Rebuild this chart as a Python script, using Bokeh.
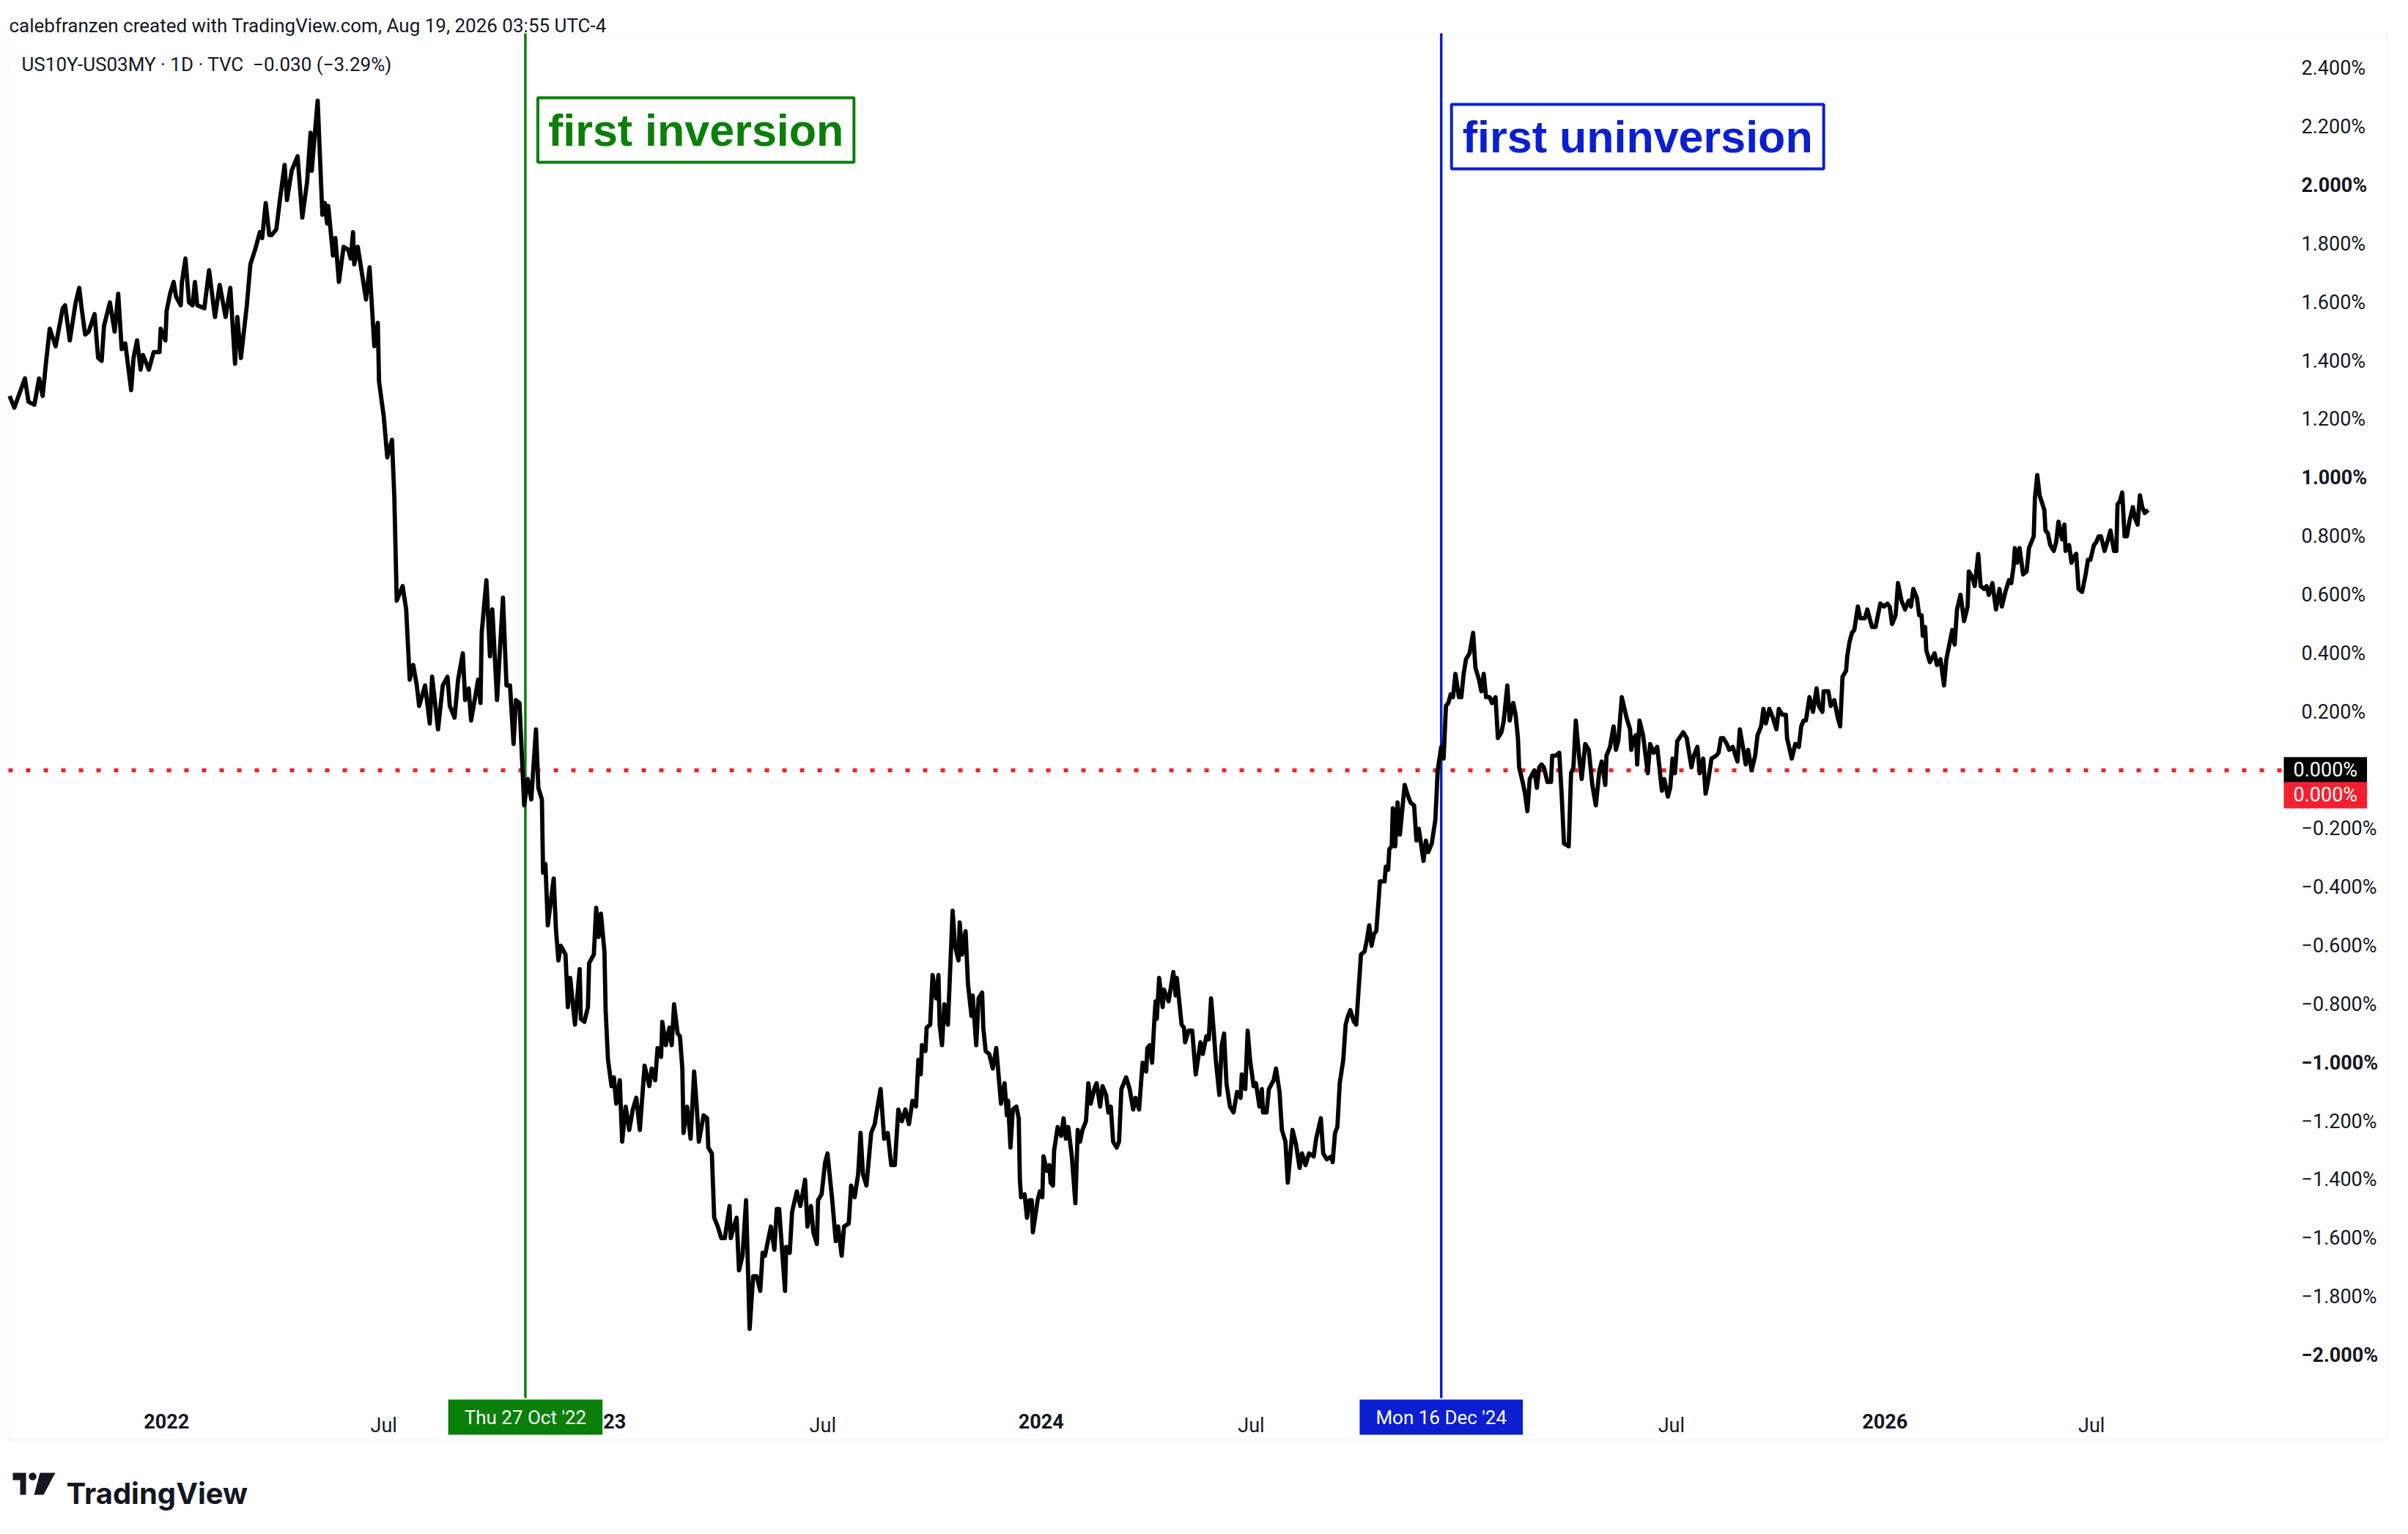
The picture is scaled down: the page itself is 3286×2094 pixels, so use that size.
import numpy as np
import pandas as pd
from bokeh.plotting import figure
from bokeh.models import Range1d, FixedTicker, Label, BoxAnnotation, PolyAnnotation, LinearAxis, Grid
from bokeh.embed import file_html
from bokeh.resources import INLINE

# ---------------- data ----------------
START = "2021-08-20"   # first bar of the series; positions below are days after it
day_offset = [
1,5,14,17,22,26,29,32,35,40,46,48,52,57,60,62,65,68,73,76,79,81,86,90,93,96,99,104,106,109,112,114,119,123,128,129,133,134,137,140,142,146,147,150,153,156,158,160,166,170,175,179,184,188,192,194,197,202,205,209,213,215,218,221,223,227,230,234,236,240,243,245,249,253,256,257,262,266,268,270,271,275,277,280,284,288,290,292,293,296,303,306,310,313,314,318,321,325,327,329,334,337,340,343,346,348,353,357,359,364,368,372,374,378,381,385,387,390,392,398,400,401,405,408,410,414,419,422,425,428,430,433,437,440,443,447,449,452,453,455,457,462,464,466,468,472,474,476,480,484,485,488,491,492,496,498,500,502,505,506,508,511,513,515,518,520,523,526,529,532,535,539,543,545,548,550,553,554,557,560,562,564,567,569,571,572,575,578,581,583,585,589,592,593,596,598,601,604,607,611,612,614,617,619,622,625,628,631,634,637,639,641,644,646,649,651,653,658,659,662,664,668,671,675,677,680,682,685,686,689,692,694,698,701,703,706,708,712,714,717,720,722,724,727,731,734,736,739,742,745,748,751,754,757,760,763,766,769,771,773,774,777,778,781,783,786,788,789,791,793,796,800,802,805,806,808,811,813,816,817,820,822,825,826,828,831,834,837,841,844,846,847,849,851,854,856,857,858,861,863,865,867,868,872,874,876,877,880,882,883,885,886,889,892,894,896,898,901,904,906,908,910,913,915,917,920,922,925,927,930,932,934,936,939,941,943,947,950,953,955,958,960,961,964,965,967,969,971,972,973,975,978,979,983,987,989,990,994,996,997,1000,1003,1006,1010,1012,1015,1017,1019,1021,1023,1026,1028,1030,1032,1035,1038,1041,1044,1045,1048,1050,1052,1055,1057,1060,1062,1063,1066,1068,1072,1074,1077,1079,1082,1084,1088,1091,1094,1096,1099,1102,1106,1108,1112,1114,1117,1121,1122,1124,1126,1128,1131,1133,1135,1137,1140,1142,1144,1146,1149,1151,1153,1155,1157,1159,1161,1162,1166,1167,1169,1170,1172,1173,1175,1177,1179,1183,1186,1188,1191,1193,1195,1199,1201,1203,1206,1209,1211,1214,1216,1218,1220,1222,1224,1226,1229,1231,1233,1235,1238,1241,1243,1246,1248,1250,1252,1255,1257,1260,1262,1265,1267,1270,1272,1275,1277,1279,1280,1283,1285,1287,1289,1293,1295,1297,1299,1301,1304,1307,1308,1311,1314,1316,1318,1322,1324,1326,1328,1331,1333,1336,1339,1342,1345,1348,1350,1353,1354,1357,1360,1362,1364,1367,1371,1374,1375,1377,1379,1380,1382,1385,1389,1391,1394,1397,1401,1403,1406,1408,1410,1412,1414,1419,1422,1426,1428,1431,1433,1436,1438,1440,1443,1447,1449,1451,1453,1456,1458,1461,1465,1467,1470,1472,1474,1477,1480,1482,1485,1487,1489,1492,1495,1498,1500,1503,1506,1507,1511,1514,1517,1519,1521,1523,1526,1529,1532,1534,1537,1538,1542,1544,1547,1550,1552,1554,1557,1558,1560,1562,1564,1567,1569,1573,1575,1579,1582,1586,1589,1592,1594,1596,1599,1601,1604,1607,1610,1612,1614,1617,1619,1621,1622,1624,1625,1628,1632,1634,1637,1640,1642,1645,1647,1649,1651,1654,1657,1660,1661,1664,1666,1669,1671,1674,1676,1678,1681,1684,1687,1689,1692,1695,1697,1699,1700,1702,1704,1707,1710,1712,1716,1717,1719,1721,1725,1726,1728,1730,1733,1735,1737,1740,1742,1743,1746,1748,1750,1752,1754,1757,1760,1762,1764,1767,1769,1771,1773,1776,1779,1781,1784,1786,1787,1789,1791,1793,1795,1797,1800,1802,1804,1806,1808,1810,1813,
]
spread = [
1.28,1.24,1.34,1.26,1.25,1.34,1.28,1.40,1.51,1.45,1.58,1.59,1.47,1.60,1.65,1.58,1.49,1.50,1.56,1.41,1.40,1.52,1.60,1.50,1.63,1.44,1.46,1.30,1.41,1.47,1.37,1.42,1.37,1.43,1.43,1.51,1.47,1.57,1.63,1.67,1.62,1.59,1.67,1.75,1.60,1.59,1.67,1.59,1.58,1.71,1.55,1.66,1.55,1.65,1.39,1.55,1.41,1.59,1.73,1.78,1.84,1.82,1.94,1.83,1.83,1.85,1.95,2.07,1.95,2.05,2.08,2.10,1.89,2.01,2.18,2.05,2.29,1.90,1.94,1.87,1.93,1.76,1.82,1.67,1.79,1.78,1.75,1.84,1.73,1.79,1.61,1.72,1.45,1.53,1.33,1.21,1.07,1.13,0.93,0.58,0.63,0.55,0.31,0.36,0.29,0.22,0.29,0.16,0.32,0.14,0.29,0.32,0.22,0.18,0.31,0.40,0.24,0.28,0.17,0.31,0.23,0.47,0.65,0.39,0.55,0.24,0.59,0.29,0.29,0.09,0.24,0.23,-0.12,-0.03,-0.10,0.14,-0.06,-0.10,-0.35,-0.32,-0.53,-0.37,-0.55,-0.65,-0.60,-0.63,-0.81,-0.71,-0.87,-0.68,-0.85,-0.86,-0.81,-0.66,-0.63,-0.47,-0.57,-0.49,-0.62,-0.82,-0.99,-1.08,-1.05,-1.14,-1.06,-1.27,-1.15,-1.23,-1.16,-1.12,-1.23,-1.01,-1.08,-1.02,-1.06,-0.95,-0.98,-0.86,-0.94,-0.88,-0.94,-0.80,-0.90,-0.91,-1.02,-1.24,-1.15,-1.26,-1.03,-1.14,-1.27,-1.18,-1.19,-1.29,-1.31,-1.53,-1.56,-1.60,-1.60,-1.49,-1.60,-1.57,-1.53,-1.71,-1.66,-1.47,-1.91,-1.73,-1.73,-1.78,-1.65,-1.66,-1.60,-1.56,-1.64,-1.50,-1.50,-1.78,-1.63,-1.65,-1.51,-1.44,-1.49,-1.40,-1.56,-1.49,-1.58,-1.62,-1.47,-1.45,-1.34,-1.31,-1.47,-1.61,-1.56,-1.66,-1.56,-1.55,-1.42,-1.46,-1.38,-1.24,-1.38,-1.42,-1.24,-1.21,-1.16,-1.09,-1.26,-1.24,-1.35,-1.35,-1.16,-1.20,-1.16,-1.21,-1.13,-1.15,-0.99,-1.04,-0.94,-0.96,-0.88,-0.87,-0.70,-0.78,-0.70,-0.87,-0.94,-0.80,-0.87,-0.48,-0.60,-0.65,-0.52,-0.63,-0.55,-0.73,-0.84,-0.77,-0.94,-0.78,-0.76,-0.88,-0.96,-0.97,-1.02,-0.95,-1.14,-1.07,-1.18,-1.13,-1.29,-1.16,-1.15,-1.19,-1.40,-1.46,-1.45,-1.53,-1.47,-1.47,-1.58,-1.47,-1.44,-1.46,-1.32,-1.37,-1.35,-1.41,-1.42,-1.30,-1.22,-1.25,-1.19,-1.26,-1.22,-1.32,-1.48,-1.23,-1.27,-1.23,-1.20,-1.07,-1.14,-1.09,-1.07,-1.15,-1.08,-1.11,-1.17,-1.15,-1.27,-1.29,-1.27,-1.09,-1.05,-1.09,-1.16,-1.12,-1.16,-1.05,-1.00,-1.03,-0.95,-0.94,-1.00,-0.85,-0.79,-0.85,-0.71,-0.81,-0.75,-0.79,-0.69,-0.77,-0.71,-0.87,-0.88,-0.93,-0.89,-0.89,-1.04,-0.93,-0.97,-0.91,-0.92,-0.78,-0.88,-0.99,-1.11,-0.94,-0.90,-1.07,-1.15,-1.17,-1.10,-1.12,-1.04,-1.09,-0.89,-0.99,-1.08,-1.07,-1.15,-1.09,-1.17,-1.17,-1.09,-1.06,-1.02,-1.10,-1.23,-1.27,-1.41,-1.23,-1.28,-1.36,-1.31,-1.35,-1.31,-1.32,-1.26,-1.19,-1.31,-1.33,-1.32,-1.34,-1.24,-1.22,-1.07,-0.99,-0.87,-0.84,-0.82,-0.86,-0.87,-0.75,-0.63,-0.62,-0.58,-0.53,-0.60,-0.56,-0.55,-0.44,-0.38,-0.38,-0.33,-0.34,-0.27,-0.26,-0.13,-0.26,-0.11,-0.22,-0.05,-0.09,-0.11,-0.12,-0.24,-0.20,-0.31,-0.24,-0.28,-0.25,-0.17,0.00,0.08,0.04,0.22,0.23,0.26,0.25,0.33,0.25,0.25,0.33,0.38,0.40,0.47,0.35,0.31,0.27,0.33,0.25,0.25,0.23,0.25,0.11,0.13,0.17,0.29,0.17,0.23,0.19,0.11,0.01,-0.04,-0.08,-0.14,-0.03,0.00,-0.06,0.01,0.02,0.01,-0.04,-0.04,0.05,0.05,0.06,-0.08,-0.25,-0.26,-0.01,0.01,0.17,0.04,-0.03,0.09,0.07,-0.05,-0.12,0.00,0.03,-0.05,0.05,0.08,0.15,0.07,0.10,0.25,0.18,0.14,0.07,0.11,0.12,0.02,0.17,0.12,-0.01,0.09,0.06,0.08,-0.07,-0.03,-0.09,-0.06,0.04,-0.01,0.10,0.13,0.11,0.01,0.05,0.08,-0.01,0.04,-0.08,-0.04,0.04,0.05,0.06,0.11,0.11,0.09,0.07,0.08,0.03,0.14,0.07,0.02,0.07,0.00,0.05,0.12,0.15,0.21,0.16,0.21,0.18,0.14,0.21,0.19,0.19,0.11,0.04,0.09,0.08,0.15,0.17,0.17,0.25,0.20,0.28,0.22,0.20,0.27,0.27,0.22,0.24,0.18,0.15,0.32,0.34,0.39,0.44,0.47,0.48,0.56,0.52,0.52,0.55,0.49,0.49,0.57,0.56,0.57,0.56,0.50,0.53,0.64,0.58,0.55,0.58,0.56,0.62,0.59,0.53,0.53,0.46,0.49,0.41,0.37,0.40,0.36,0.38,0.29,0.38,0.44,0.48,0.43,0.55,0.60,0.51,0.56,0.68,0.66,0.63,0.74,0.63,0.62,0.63,0.60,0.64,0.55,0.62,0.56,0.61,0.65,0.64,0.70,0.76,0.71,0.76,0.67,0.68,0.76,0.80,0.93,1.01,0.94,0.89,0.82,0.81,0.77,0.75,0.78,0.85,0.79,0.84,0.75,0.77,0.71,0.73,0.74,0.62,0.61,0.67,0.72,0.72,0.77,0.78,0.80,0.80,0.75,0.79,0.82,0.75,0.75,0.91,0.92,0.95,0.80,0.80,0.85,0.90,0.86,0.84,0.94,0.90,0.88,0.89,
]

# event markers (positions on the same time scale)
inversion_day = 438
uninversion_day = 1214
inversion_tag = "Thu 27 Oct '22"
uninversion_tag = "Mon 16 Dec '24"

# time-scale labels (positions on the same time scale)
month_tick_day = [318, 690, 1053, 1409, 1765]
month_tick_text = ["Jul", "Jul", "Jul", "Jul", "Jul"]
year_tick_day = [134, 504, 875, 1234, 1590]
year_tick_text = ["2022", "2023", "2024", "2025", "2026"]

price_ticks = [2.4, 2.2, 1.8, 1.6, 1.4, 1.2, 0.8, 0.6, 0.4, 0.2,
               -0.2, -0.4, -0.6, -0.8, -1.2, -1.4, -1.6, -1.8]
price_ticks_bold = [2.0, 1.0, -1.0, -2.0]

header_text = "calebfranzen created with TradingView.com, Aug 19, 2026 03:55 UTC-4"
symbol_text = "US10Y-US03MY \u00b7 1D \u00b7 TVC \u00a0\u22120.030 (\u22123.29%)"

# ---------------- helpers ----------------
start = pd.Timestamp(START)

def tms(days):
    """milliseconds timestamp of a position given in days after START"""
    return (start + pd.Timedelta(days=float(days))).value / 1e6

def pct(v):
    return f"{v:.3f}%".replace("-", "\u2212")

x = start + pd.to_timedelta(np.array(day_offset, dtype=float), unit="D")
y = np.array(spread)

TXT = "#131722"
GREEN = "#0a7f0a"
BLUE = "#0b1fd0"
RED = "#f5202f"
UI_FONT = "Roboto"

# window of the whole screenshot (the chart pane is drawn inside it)
X_START, X_END = -6.83, 2023.5      # days after START at the canvas edges
PLOT_END = 1927.9                   # right edge of the plotting area (price scale begins)
PANE_TOP = 2.52                     # top of the chart pane (value units)
TIME_SCALE_TOP = -2.147             # top of the time-scale strip (value units)

W, H = 3270, 2078
p = figure(width=W, height=H, output_backend="svg", toolbar_location=None,
           x_axis_location=None, y_axis_location=None,
           x_range=Range1d(tms(X_START), tms(X_END)), y_range=Range1d(-2.5727, 2.6328),
           min_border=0)
p.outline_line_color = None
p.background_fill_color = "white"
p.border_fill_color = "white"
for g in p.select(type=Grid):
    g.visible = False

def style_axis(ax, size="27px", bold=False, standoff=18):
    ax.axis_line_color = None
    ax.major_tick_line_color = None
    ax.minor_tick_line_color = None
    ax.major_label_standoff = standoff
    ax.major_label_text_font = UI_FONT
    ax.major_label_text_font_size = size
    ax.major_label_text_color = TXT
    ax.major_label_text_font_style = "bold" if bold else "normal"

# frame of the chart pane
p.add_layout(BoxAnnotation(left=11, right=3257, top=45, bottom=1965,
                           left_units="canvas", right_units="canvas",
                           top_units="canvas", bottom_units="canvas",
                           fill_alpha=0, line_color="#eceef2", line_width=3, level="underlay"))

# price scale (regular + bold round values), drawn at the right edge of the plot area
ya = LinearAxis(fixed_location=tms(PLOT_END), ticker=FixedTicker(ticks=price_ticks),
                major_label_overrides={v: pct(v) for v in price_ticks})
style_axis(ya)
p.add_layout(ya, "right")
yb = LinearAxis(fixed_location=tms(PLOT_END), ticker=FixedTicker(ticks=price_ticks_bold),
                major_label_overrides={v: pct(v) for v in price_ticks_bold})
style_axis(yb, bold=True)
p.add_layout(yb, "right")

# time scale (months regular, years bold)
xa = LinearAxis(fixed_location=TIME_SCALE_TOP, ticker=FixedTicker(ticks=[tms(d) for d in month_tick_day]),
                major_label_overrides={tms(d): t for d, t in zip(month_tick_day, month_tick_text)})
style_axis(xa, standoff=15)
p.add_layout(xa, "below")
xb = LinearAxis(fixed_location=TIME_SCALE_TOP, ticker=FixedTicker(ticks=[tms(d) for d in year_tick_day]),
                major_label_overrides={tms(d): t for d, t in zip(year_tick_day, year_tick_text)})
style_axis(xb, bold=True, standoff=15)
p.add_layout(xb, "below")

# zero line and event lines
p.segment(x0=[tms(0)], y0=[0], x1=[tms(PLOT_END)], y1=[0],
          line_color=RED, line_width=5.5, line_dash="6 18")
p.segment(x0=[tms(inversion_day)], y0=[PANE_TOP], x1=[tms(inversion_day)], y1=[TIME_SCALE_TOP],
          line_color=GREEN, line_width=3.5)
p.segment(x0=[tms(uninversion_day)], y0=[PANE_TOP], x1=[tms(uninversion_day)], y1=[TIME_SCALE_TOP],
          line_color=BLUE, line_width=3.5)

# series
p.line(x, y, line_color="black", line_width=5.8, line_join="round")

# annotation boxes  (padding = (horizontal, vertical))
p.add_layout(Label(x=tms(inversion_day), x_offset=17, y=133, y_units="canvas",
                   text="first inversion", text_font="Liberation Sans", text_font_style="bold",
                   text_font_size="61px", text_color=GREEN, text_align="left", text_baseline="top",
                   background_fill_color="white", border_line_color=GREEN, border_line_width=4,
                   padding=(14, 10)))
p.add_layout(Label(x=tms(uninversion_day), x_offset=14, y=142, y_units="canvas",
                   text="first uninversion", text_font="Liberation Sans", text_font_style="bold",
                   text_font_size="61px", text_color=BLUE, text_align="left", text_baseline="top",
                   background_fill_color="white", border_line_color=BLUE, border_line_width=4,
                   padding=(15, 10)))

# date tags on the time scale
for d, t, c in [(inversion_day, inversion_tag, GREEN), (uninversion_day, uninversion_tag, BLUE)]:
    p.add_layout(Label(x=tms(d), y=1934, y_units="canvas", text=t, text_font=UI_FONT,
                       text_font_size="26px", text_color="white", text_align="center",
                       text_baseline="middle", background_fill_color=c, padding=(22, 9)))

# price-scale tags at zero
p.add_layout(Label(x=3116, x_units="canvas", y=0, text=pct(0.0), text_font=UI_FONT,
                   text_font_size="27px", text_color="white", text_align="left",
                   text_baseline="middle", background_fill_color="black", padding=(13, 2)))
p.add_layout(Label(x=3116, x_units="canvas", y=0, y_offset=-34, text=pct(0.0), text_font=UI_FONT,
                   text_font_size="27px", text_color="white", text_align="left",
                   text_baseline="middle", background_fill_color=RED, padding=(13, 2)))

# header / legend texts
p.add_layout(Label(x=12, y=34, x_units="canvas", y_units="canvas", text=header_text,
                   text_font=UI_FONT, text_font_size="26px", text_color=TXT,
                   text_align="left", text_baseline="alphabetic"))
p.add_layout(Label(x=29, y=87, x_units="canvas", y_units="canvas", text=symbol_text,
                   text_font=UI_FONT, text_font_size="26px", text_color=TXT,
                   text_align="left", text_baseline="alphabetic"))

# TradingView logo + wordmark
LOGO = "#131722"
p.add_layout(PolyAnnotation(xs=[17, 35, 35, 27, 27, 17], ys=[2010, 2010, 2040, 2040, 2020, 2020],
                            xs_units="canvas", ys_units="canvas",
                            fill_color=LOGO, fill_alpha=1, line_color=None))
ang = np.linspace(0, 2 * np.pi, 24, endpoint=False)
p.add_layout(PolyAnnotation(xs=list(44 + 5.2 * np.cos(ang)), ys=list(2015 + 5.2 * np.sin(ang)),
                            xs_units="canvas", ys_units="canvas",
                            fill_color=LOGO, fill_alpha=1, line_color=None))
p.add_layout(PolyAnnotation(xs=[54, 75, 59, 46], ys=[2010, 2010, 2040, 2040],
                            xs_units="canvas", ys_units="canvas",
                            fill_color=LOGO, fill_alpha=1, line_color=None))
p.add_layout(Label(x=90, y=2038, x_units="canvas", y_units="canvas", text="TradingView",
                   text_font="Inter", text_font_style="bold", text_font_size="40px",
                   text_color=LOGO, text_align="left", text_baseline="alphabetic"))

open("out.html", "w").write(file_html(p, INLINE))
